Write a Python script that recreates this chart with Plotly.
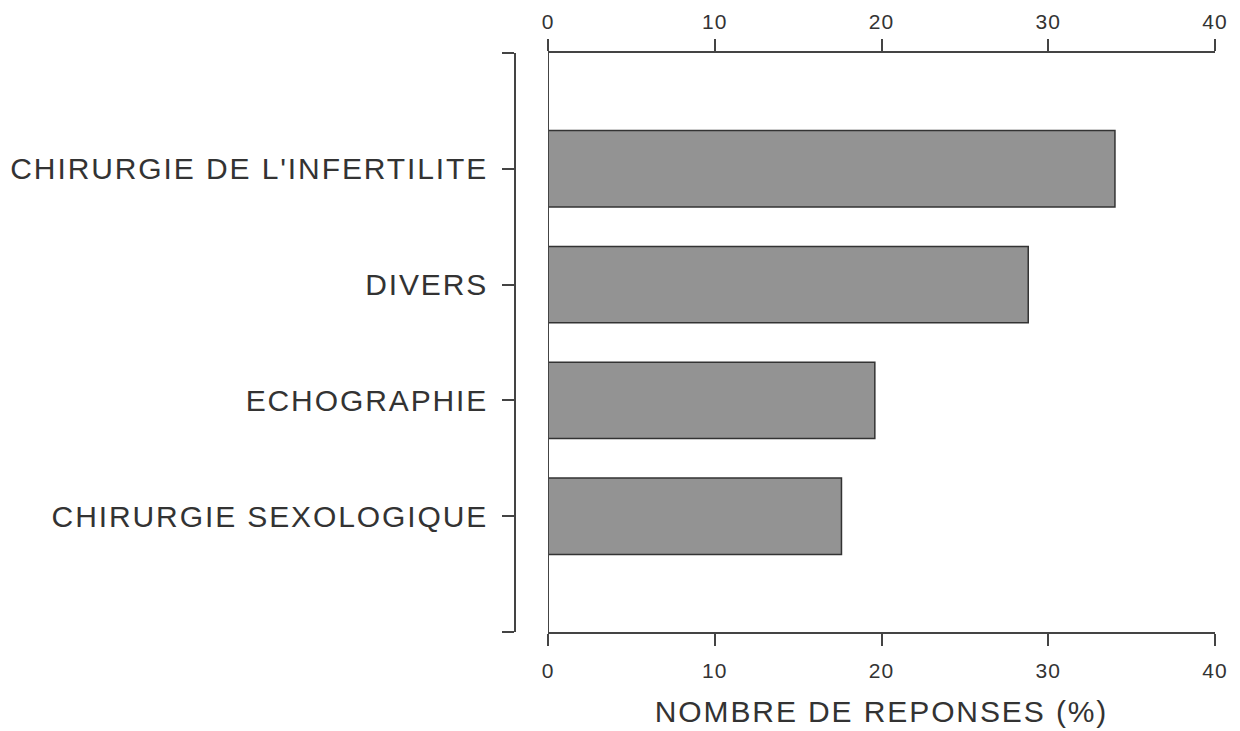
import plotly.graph_objects as go

categories = ["CHIRURGIE DE L'INFERTILITE", "DIVERS", "ECHOGRAPHIE", "CHIRURGIE SEXOLOGIQUE"]
values = [34.0, 28.8, 19.6, 17.6]
x_ticks = [0, 10, 20, 30, 40]
x_title = "NOMBRE DE REPONSES (%)"

positions = list(range(len(categories)))
axis_col = "#444444"
text_col = "#333333"
font_fam = "Liberation Sans, Arial, sans-serif"

W, H = 1240, 731
ml, mr, mt, mb = 515, 25, 53, 99
pw = W - ml - mr
x0_frac = (548 - ml) / pw

fig = go.Figure()
fig.add_trace(go.Bar(
    x=values, y=positions, orientation="h", width=0.66,
    marker=dict(color="#939393", line=dict(color="#333333", width=1.5)),
    xaxis="x", yaxis="y", showlegend=False, hoverinfo="skip",
))
fig.add_trace(go.Scatter(
    x=[x_ticks[0], x_ticks[-1]], y=[positions[0], positions[0]], mode="markers",
    marker=dict(opacity=0), xaxis="x2", yaxis="y", showlegend=False, hoverinfo="skip",
))

tick_font = dict(family=font_fam, size=21, color=text_col)
common_x = dict(
    range=[x_ticks[0], x_ticks[-1]], domain=[x0_frac, 1], tickvals=x_ticks,
    showline=True, linecolor=axis_col, linewidth=1.5, ticks="outside", ticklen=12,
    tickwidth=1.5, tickcolor=axis_col, showgrid=False, zeroline=False, tickfont=tick_font,
    automargin=False,
)
fig.update_layout(
    width=W, height=H, margin=dict(l=ml, r=mr, t=mt, b=mb, autoexpand=False),
    plot_bgcolor="white", paper_bgcolor="white",
    xaxis=dict(**common_x, side="bottom", anchor="y", ticklabelstandoff=7,
               title=dict(text=x_title, font=dict(family=font_fam, size=30, color=text_col), standoff=20)),
    xaxis2=dict(**common_x, side="top", overlaying="x", anchor="y", ticklabelstandoff=2),
    yaxis=dict(
        range=[len(categories), -1], anchor="free", position=0, automargin=False,
        tickvals=[-1] + positions + [len(categories)],
        ticktext=[""] + categories + [""],
        showline=True, linecolor=axis_col, linewidth=1.5, ticks="outside", ticklen=12,
        tickwidth=1.5, tickcolor=axis_col, showgrid=False, zeroline=False,
        tickfont=dict(family=font_fam, size=30, color=text_col), ticklabelstandoff=8,
    ),
    shapes=[dict(type="line", xref="x", yref="y domain", x0=0, x1=0, y0=0, y1=1,
                 line=dict(color=axis_col, width=2))],
)
post = (
    "document.body.style.margin='0';"
    "var s=document.createElement('style');"
    "s.textContent='.ytick text, .xtitle{letter-spacing:1.9px;} .xtick text, .x2tick text{letter-spacing:1px;}';"
    "document.head.appendChild(s);"
)
fig.write_html("out.html", post_script=post, config={"displayModeBar": False})
